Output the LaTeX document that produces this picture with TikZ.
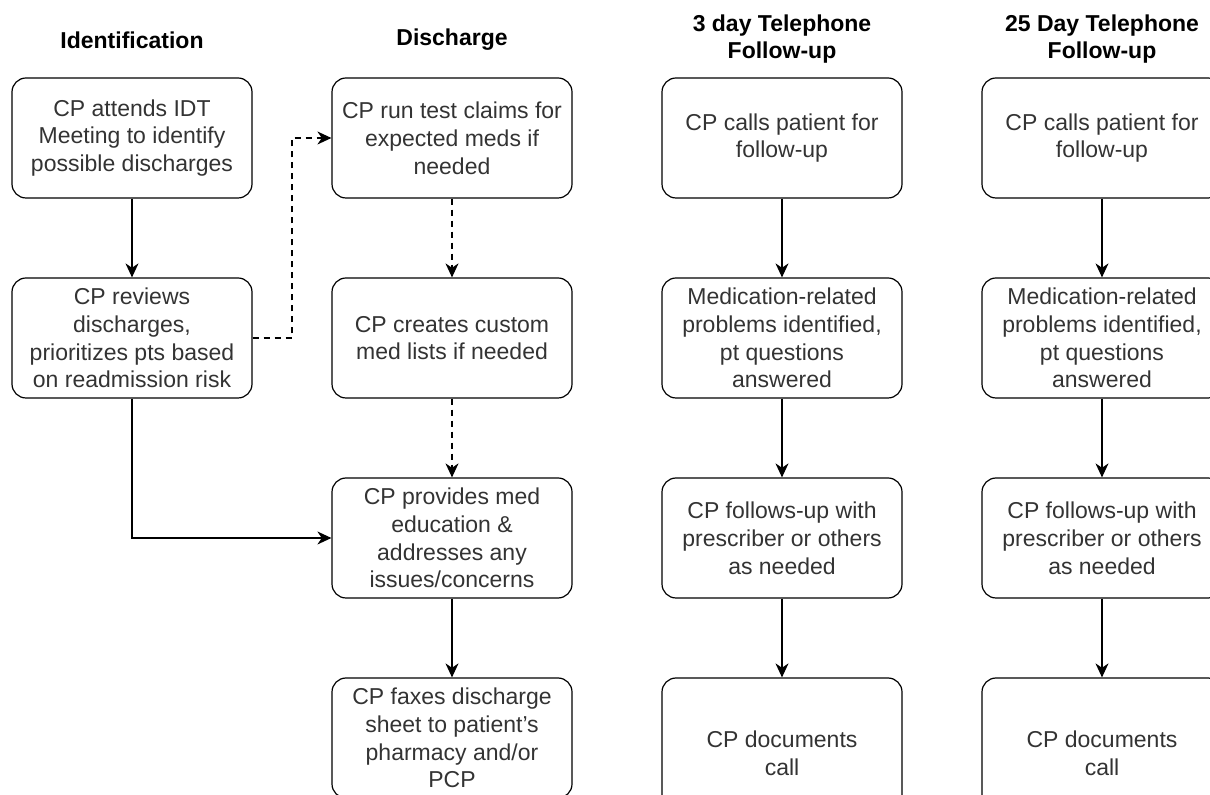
\documentclass[tikz,border=0pt]{standalone}
\usepackage{fontspec}
\setmainfont{Liberation Sans}
\usetikzlibrary{arrows.meta}
\definecolor{txt}{HTML}{333333}
\begin{document}
\begin{tikzpicture}[x=0.5pt,y=-0.5pt,
  box/.style={draw=black,line width=0.6pt,rounded corners=7pt,minimum width=120pt,minimum height=60pt,
    align=center,inner sep=0pt,text=txt,font=\fontsize{11.5}{13.9}\selectfont},
  tallbox/.style={box,minimum height=75pt},
  head/.style={align=center,inner sep=0pt,text=black,font=\bfseries\fontsize{11.5}{13.4}\selectfont},
  arr/.style={draw=black,line width=0.6pt,-{Stealth[length=7pt,width=6.5pt,inset=2.2pt]}},
  darr/.style={arr,dashed,dash pattern=on 3pt off 2.5pt}]
\useasboundingbox (0,0) rectangle (1210,795);
\clip (0,0) rectangle (1210,795);
% headers
\node[head] (h1) at (132,40) {Identification};
\node[head] (h2) at (452,40) {Discharge};
\node[head] (h3) at (782,39) {3 day Telephone\\Follow-up};
\node[head] (h4) at (1102,39) {25 Day Telephone\\Follow-up};
% column 1
\node[box] (a1) at (132,138) {CP attends IDT\\Meeting to identify\\possible discharges};
\node[box] (a2) at (132,338) {CP reviews\\discharges,\\prioritizes pts based\\on readmission risk};
% column 2
\node[box] (b1) at (452,138) {CP run test claims for\\expected meds if\\needed};
\node[box] (b2) at (452,338) {CP creates custom\\med lists if needed};
\node[box] (b3) at (452,538) {CP provides med\\education \&\\addresses any\\issues/concerns};
\node[box] (b4) at (452,738) {CP faxes discharge\\sheet to patient's\\pharmacy and/or\\PCP};
% column 3
\node[box] (c1) at (782,138) {CP calls patient for\\follow-up};
\node[box] (c2) at (782,338) {Medication-related\\problems identified,\\pt questions\\answered};
\node[box] (c3) at (782,538) {CP follows-up with\\prescriber or others\\as needed};
\node[tallbox] (c4) at (782,753) {CP documents\\call};
% column 4
\node[box] (d1) at (1102,138) {CP calls patient for\\follow-up};
\node[box] (d2) at (1102,338) {Medication-related\\problems identified,\\pt questions\\answered};
\node[box] (d3) at (1102,538) {CP follows-up with\\prescriber or others\\as needed};
\node[tallbox] (d4) at (1102,753) {CP documents\\call};
% connectors
\coordinate (k1) at (292,338);
\coordinate (k2) at (292,138);
\draw[arr] (a1) -- (a2);
\draw[darr] (a2.east) -- (k1) -- (k2) -- (b1.west);
\draw[arr] (a2.south) |- (b3.west);
\draw[darr] (b1) -- (b2);
\draw[darr] (b2) -- (b3);
\draw[arr] (b3) -- (b4);
\draw[arr] (c1) -- (c2);
\draw[arr] (c2) -- (c3);
\draw[arr] (c3) -- (c4);
\draw[arr] (d1) -- (d2);
\draw[arr] (d2) -- (d3);
\draw[arr] (d3) -- (d4);
\end{tikzpicture}
\end{document}
